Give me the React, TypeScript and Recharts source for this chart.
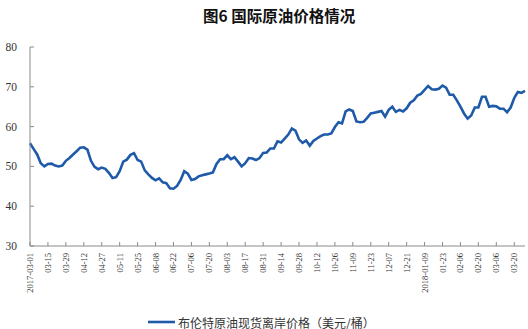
import { LineChart, Line, XAxis, YAxis } from "recharts";

// tick labels, one every 10 trading days
const TICK_LABELS = [
  "2017-03-01", "03-15", "03-29", "04-12", "04-27", "05-11", "05-25",
  "06-08", "06-22", "07-06", "07-20", "08-03", "08-17", "08-31",
  "09-14", "09-28", "10-12", "10-26", "11-09", "11-23", "12-07",
  "12-21", "2018-01-09", "01-23", "02-06", "02-20", "03-06", "03-20",
];

// Brent spot, USD/bbl, read every 2nd trading day
const BRENT = [
  55.8, 54.4, 53.0, 50.8, 50.0, 50.6, 50.7, 50.2, 50.0, 50.2,
  51.4, 52.1, 53.0, 53.8, 54.7, 54.8, 54.2, 51.4, 49.9, 49.3,
  49.7, 49.4, 48.4, 47.1, 47.3, 48.8, 51.2, 51.7, 52.9, 53.3,
  51.6, 51.2, 49.0, 48.0, 47.1, 46.5, 47.0, 46.0, 45.8, 44.5,
  44.4, 45.1, 46.6, 48.8, 48.2, 46.6, 46.8, 47.5, 47.8, 48.0,
  48.2, 48.5, 50.6, 51.8, 51.8, 52.8, 51.8, 52.3, 51.2, 50.0,
  50.8, 52.1, 52.0, 51.6, 52.1, 53.4, 53.5, 54.5, 54.5, 56.3,
  56.0, 57.0, 58.0, 59.5, 59.0, 56.8, 55.9, 56.5, 55.2, 56.4,
  57.0, 57.6, 58.0, 58.0, 58.3, 59.9, 61.1, 60.8, 63.8, 64.3,
  63.9, 61.3, 61.1, 61.2, 62.2, 63.3, 63.5, 63.7, 63.9, 62.5,
  64.2, 65.0, 63.7, 64.2, 63.8, 64.6, 66.0, 66.6, 67.8, 68.2,
  69.2, 70.2, 69.4, 69.3, 69.5, 70.3, 69.8, 68.0, 68.0, 66.6,
  65.0, 63.3, 62.0, 62.8, 64.8, 64.8, 67.5, 67.5, 65.0, 65.2,
  65.1, 64.5, 64.5, 63.6, 64.8, 67.2, 68.7, 68.5, 69.0,
];

const Y_TICKS = [30, 40, 50, 60, 70, 80];

const STEP = 2; // trading days between samples
const LABEL_EVERY = 10; // trading days between labels

const data = BRENT.map((price, k) => ({ day: k * STEP, price }));
const tickDays = TICK_LABELS.map((_, k) => k * LABEL_EVERY);
const lastDay = (BRENT.length - 1) * STEP;

const LINE_COLOR = "#1f5aa8";
const AXIS_COLOR = "#8a8a8a";
const SERIF = "'Liberation Serif', 'Times New Roman', serif";
const CJK = "'Noto Sans CJK SC', sans-serif";

function DateTick({ x, y, payload }: any) {
  const label = TICK_LABELS[Math.round(payload.value / LABEL_EVERY)];
  return (
    <text
      x={x}
      y={y}
      transform={`rotate(-90 ${x} ${y})`}
      textAnchor="end"
      dominantBaseline="central"
      fontSize={8.5}
      fontFamily={SERIF}
      fill="#333"
    >
      {label}
    </text>
  );
}

export default function App() {
  return (
    <div style={{ position: "absolute", left: 0, top: 0, width: 528, height: 329, background: "#fff" }}>
      <div
        style={{
          position: "absolute", left: 203, top: 7, fontFamily: CJK, fontWeight: 600,
          fontSize: 15.5, lineHeight: "16px", color: "#111", whiteSpace: "nowrap",
        }}
      >
        图6 国际原油价格情况
      </div>

      <LineChart width={528} height={329} data={data} margin={{ top: 47, right: 3, left: 0, bottom: 33 }}>
        <XAxis
          dataKey="day"
          type="number"
          domain={[0, lastDay]}
          ticks={tickDays}
          height={50}
          stroke={AXIS_COLOR}
          tickSize={-4}
          tickMargin={11}
          tick={DateTick}
          interval={0}
        />
        <YAxis
          domain={[30, 80]}
          ticks={Y_TICKS}
          width={30}
          stroke={AXIS_COLOR}
          tickSize={-4}
          tickMargin={17}
          tick={{ fontSize: 11.5, fill: "#333", fontFamily: SERIF }}
          interval={0}
        />
        <Line
          type="linear"
          dataKey="price"
          stroke={LINE_COLOR}
          strokeWidth={2.6}
          dot={false}
          isAnimationActive={false}
        />
      </LineChart>

      <div style={{ position: "absolute", left: 148, top: 314, display: "flex", alignItems: "center", height: 16 }}>
        <svg width={28} height={16} style={{ display: "block" }}>
          <line x1={0} y1={8} x2={27} y2={8} stroke={LINE_COLOR} strokeWidth={2.6} />
        </svg>
        <span style={{ marginLeft: 2, fontFamily: CJK, fontSize: 12, color: "#333", whiteSpace: "nowrap" }}>
          布伦特原油现货离岸价格（美元/桶）
        </span>
      </div>
    </div>
  );
}
